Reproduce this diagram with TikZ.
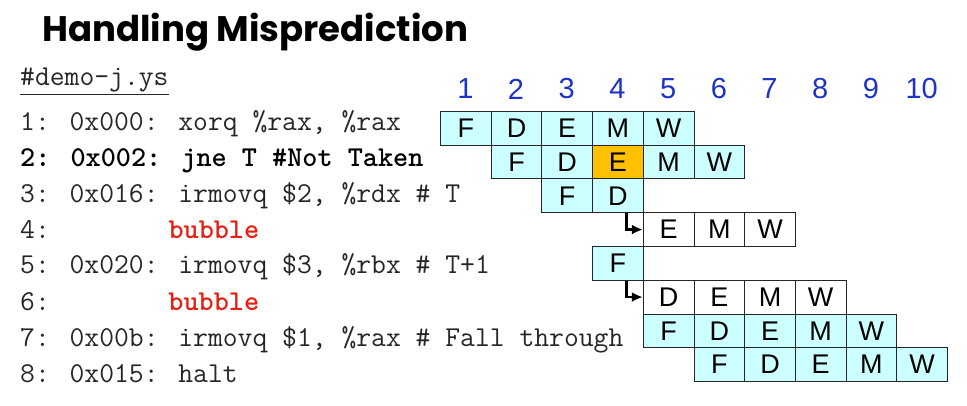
\documentclass[tikz,border=0pt]{standalone}
\usepackage{fontspec}
\setmainfont{Liberation Sans}
\newfontfamily\titlefont{Poppins}
\usetikzlibrary{arrows.meta}
\definecolor{cellcyan}{HTML}{CCFFFF}
\definecolor{cellorange}{HTML}{FFC000}
\definecolor{cyclenum}{RGB}{30,50,200}
\definecolor{bubblered}{RGB}{230,30,20}
\definecolor{codegray}{HTML}{262626}
\tikzset{
  stagebox/.style={draw=black!85, line width=0.9pt, minimum width=50.7pt, minimum height=33.75pt,
    inner sep=0pt, anchor=north west, font=\fontsize{27}{27}\selectfont, fill=cellcyan},
  blankbox/.style={stagebox, fill=white},
  hazbox/.style={stagebox, fill=cellorange},
  cyclelabel/.style={font=\fontsize{29}{29}\selectfont, text=cyclenum, inner sep=0pt},
  codeline/.style={anchor=base west, inner sep=0pt, text=codegray, font=\ttfamily\fontsize{28.8}{28.8}\selectfont},
  elbow/.style={line width=2.2pt, -{Latex[length=11pt,width=10pt]}},
}
\newcommand{\colx}[1]{440+50.7*(#1-1)}
\newcommand{\rowy}[1]{111+33.75*(#1-1)}
\begin{document}
\begin{tikzpicture}[x=1pt,y=-1pt]
\useasboundingbox (0,0) rectangle (967,406);
% title
\node[anchor=base west, inner sep=0pt, font=\titlefont\bfseries\fontsize{35.5}{36}\selectfont] (title) at (42,42) {Handling Misprediction};
% code lines
\node[codeline] (demo) at (20,86) {\underline{\#demo-j.ys}};
\node[codeline] (l1) at (20,131) {1: 0x000: xorq \%rax, \%rax};
\node[codeline, text=black] (l2) at (20,167) {\bfseries 2: 0x002: jne T \#Not Taken};
\node[codeline] (l3) at (20,203) {3: 0x016: irmovq \$2, \%rdx \# T};
\node[codeline] (l4) at (20,239) {4:\phantom{00000000}\textcolor{bubblered}{\bfseries bubble}};
\node[codeline] (l5) at (20,274) {5: 0x020: irmovq \$3, \%rbx \# T+1};
\node[codeline] (l6) at (20,310) {6:\phantom{00000000}\textcolor{bubblered}{\bfseries bubble}};
\node[codeline] (l7) at (20,346) {7: 0x00b: irmovq \$1, \%rax \# Fall through};
\node[codeline] (l8) at (20,382) {8: 0x015: halt};
% cycle numbers
\foreach \c in {1,...,10}
  \node[cyclelabel] (n\c) at ({440+50.7*(\c-0.5)},89) {\c};
% row 1
\foreach \l [count=\i] in {F,D,E,M,W}
  \node[stagebox] (s-1-\i) at ({\colx{\i}},{\rowy{1}}) {\l};
% row 2
\node[stagebox] (s-2-2) at ({\colx{2}},{\rowy{2}}) {F};
\node[stagebox] (s-2-3) at ({\colx{3}},{\rowy{2}}) {D};
\node[hazbox]   (s-2-4) at ({\colx{4}},{\rowy{2}}) {E};
\node[stagebox] (s-2-5) at ({\colx{5}},{\rowy{2}}) {M};
\node[stagebox] (s-2-6) at ({\colx{6}},{\rowy{2}}) {W};
% row 3
\node[stagebox] (s-3-3) at ({\colx{3}},{\rowy{3}}) {F};
\node[stagebox] (s-3-4) at ({\colx{4}},{\rowy{3}}) {D};
% row 4 (bubble)
\foreach \l [count=\i from 5] in {E,M,W}
  \node[blankbox] (s-4-\i) at ({\colx{\i}},{\rowy{4}}) {\l};
% row 5
\node[stagebox] (s-5-4) at ({\colx{4}},{\rowy{5}}) {F};
% row 6 (bubble)
\foreach \l [count=\i from 5] in {D,E,M,W}
  \node[blankbox] (s-6-\i) at ({\colx{\i}},{\rowy{6}}) {\l};
% row 7
\foreach \l [count=\i from 5] in {F,D,E,M,W}
  \node[stagebox] (s-7-\i) at ({\colx{\i}},{\rowy{7}}) {\l};
% row 8
\foreach \l [count=\i from 6] in {F,D,E,M,W}
  \node[stagebox] (s-8-\i) at ({\colx{\i}},{\rowy{8}}) {\l};
% elbow arrows
\draw[elbow] ([xshift=8.5pt]s-3-4.south) |- (s-4-5.west);
\draw[elbow] ([xshift=8.5pt]s-5-4.south) |- (s-6-5.west);
\end{tikzpicture}
\end{document}
